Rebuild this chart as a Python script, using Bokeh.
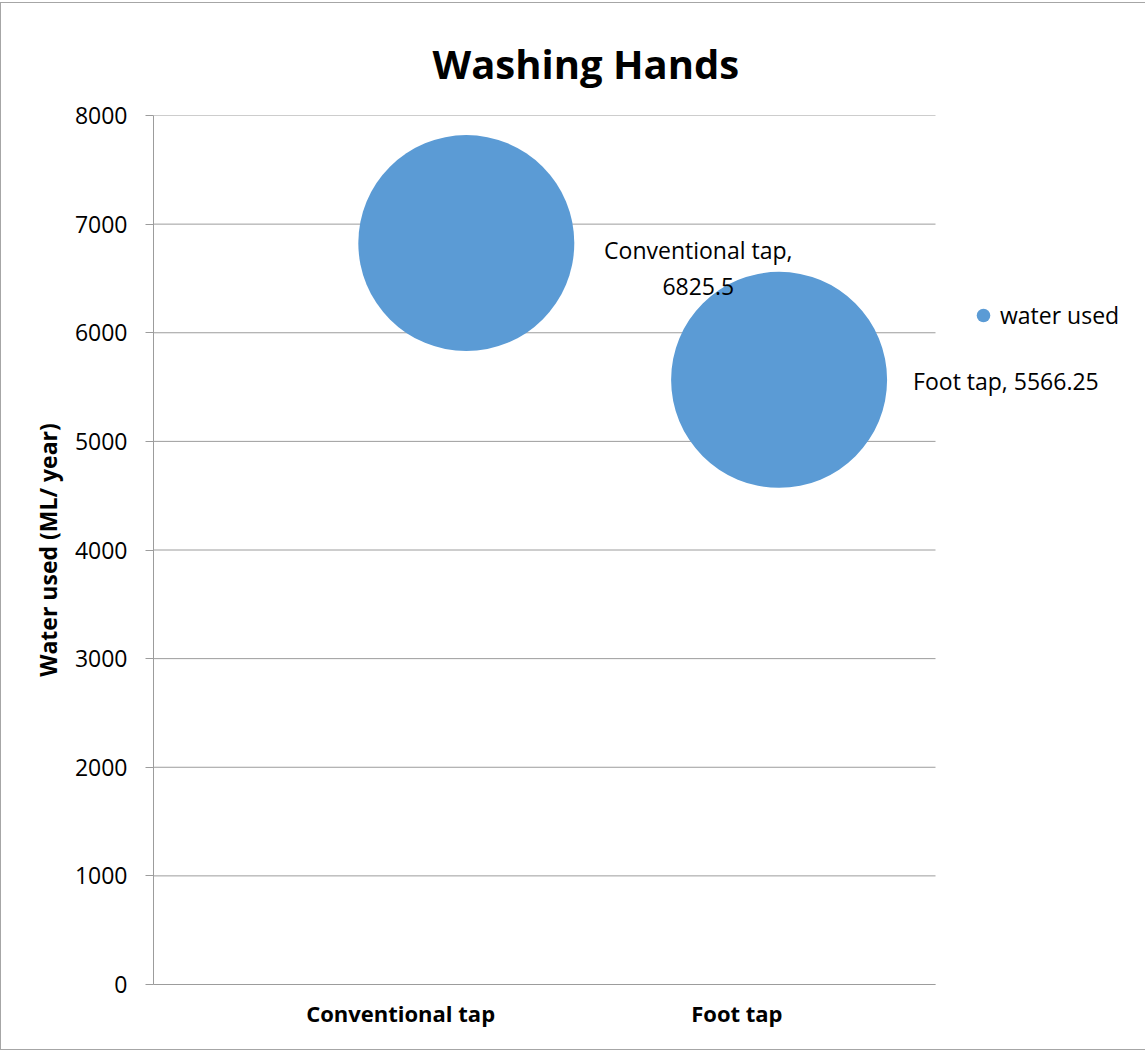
from bokeh.plotting import figure
from bokeh.models import (ColumnDataSource, FixedTicker, Range1d, Legend,
                          LegendItem, Title, Label)
from bokeh.embed import file_html
from bokeh.resources import INLINE

# Data
categories = ["Conventional tap", "Foot tap"]
x_positions = [1, 2]
water_used = [6825.5, 5566.25]
y_ticks = [0, 1000, 2000, 3000, 4000, 5000, 6000, 7000, 8000]
series_name = "water used"

FONT = "Open Sans"
BUBBLE = "#5B9BD5"
GRID = "#9C9C9C"

# Layout: the plotting area is 782 px wide for x in [0, 2.5]; the frame
# continues to the right edge so labels and legend beside it stay visible.
W, H = 1145, 1048
LEFT, TOP, BOTTOM = 152, 112, 67
AREA_W = 782
X_END = 2.5
frame_w = W - LEFT
x_full = X_END * frame_w / AREA_W

p = figure(
    width=W, height=H,
    x_range=Range1d(0, x_full), y_range=Range1d(0, 8000),
    output_backend="svg", toolbar_location=None,
    min_border_left=LEFT, min_border_right=0,
    min_border_top=TOP, min_border_bottom=BOTTOM,
    outline_line_color=None, background_fill_color="white",
    border_fill_color="white",
)
p.styles = {
    "margin-top": "2px",
    "border-top": "1px solid #A6A6A6",
    "border-left": "1px solid #A6A6A6",
    "border-bottom": "1px solid #A6A6A6",
}

# Title
p.title = Title(text="Washing Hands", align="left", offset=279,
                text_font=FONT, text_font_size="40px", text_font_style="bold",
                text_color="black", standoff=50)

# Y axis
p.yaxis.ticker = FixedTicker(ticks=y_ticks)
p.yaxis.axis_label = "Water used (ML/ year)"
p.yaxis.axis_label_text_font = FONT
p.yaxis.axis_label_text_font_size = "23px"
p.yaxis.axis_label_text_font_style = "bold"
p.yaxis.axis_label_text_color = "black"
p.yaxis.axis_label_standoff = 8
p.yaxis.major_label_text_font = FONT
p.yaxis.major_label_text_font_size = "23px"
p.yaxis.major_label_text_color = "black"
p.yaxis.major_label_standoff = 18
p.yaxis.major_tick_out = 8
p.yaxis.major_tick_in = 0
p.yaxis.minor_tick_line_color = None
p.yaxis.major_tick_line_color = GRID
p.yaxis.axis_line_color = GRID

# X axis with category names
cat_ticks = [0.79, 1.865]
p.xaxis.ticker = FixedTicker(ticks=cat_ticks)
p.xaxis.major_label_overrides = {t: c for t, c in zip(cat_ticks, categories)}
p.xaxis.major_label_text_font = FONT
p.xaxis.major_label_text_font_size = "22px"
p.xaxis.major_label_text_font_style = "bold"
p.xaxis.major_label_text_color = "black"
p.xaxis.major_label_standoff = 7
p.xaxis.major_tick_line_color = None
p.xaxis.minor_tick_line_color = None
p.xaxis.axis_line_color = GRID
p.xaxis.bounds = (0, X_END)

# Horizontal grid lines only across the plotting area
p.xgrid.grid_line_color = None
p.ygrid.grid_line_color = None
p.segment(x0=[0] * len(y_ticks), x1=[X_END] * len(y_ticks),
          y0=y_ticks, y1=y_ticks, line_color=GRID, line_width=1,
          level="underlay")

# Bubbles
src = ColumnDataSource(dict(x=x_positions, y=water_used, cat=categories))
bubbles = p.scatter("x", "y", source=src, size=216, marker="circle",
                    fill_color=BUBBLE, line_color=None)


# Data labels
def fmt(v):
    return f"{v:g}"


p.add_layout(Label(
    x=x_positions[0], y=water_used[0],
    text=f"{categories[0]},\n{fmt(water_used[0])}",
    x_offset=232, y_offset=-25, text_align="center", text_baseline="middle",
    text_font=FONT, text_font_size="23px", text_color="black",
    text_line_height=1.1))
p.add_layout(Label(
    x=x_positions[1], y=water_used[1],
    text=f"{categories[1]}, {fmt(water_used[1])}",
    x_offset=134, y_offset=-1, text_align="left", text_baseline="middle",
    text_font=FONT, text_font_size="23px", text_color="black"))

# Legend beside the plotting area
legend = Legend(items=[LegendItem(label=series_name, renderers=[bubbles])],
                location=(813, 651), glyph_width=34, glyph_height=36,
                label_standoff=0, padding=0, margin=0, spacing=0,
                border_line_color=None, background_fill_color=None,
                label_text_font=FONT, label_text_font_size="23px",
                label_text_color="black")
p.add_layout(legend)

open("out.html", "w").write(file_html(p, INLINE))
